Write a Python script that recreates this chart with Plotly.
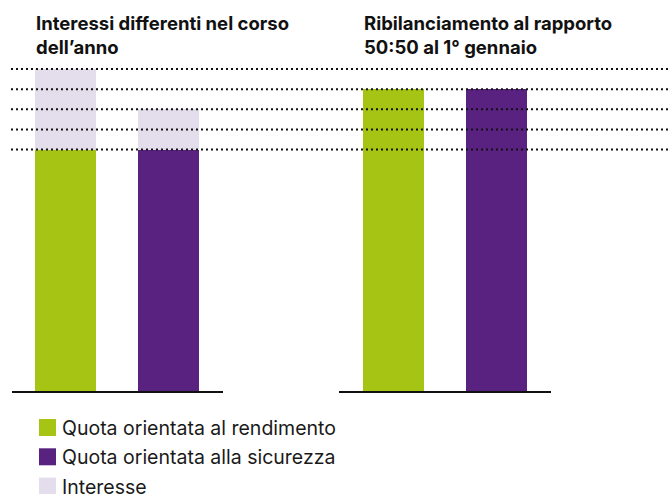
import plotly.graph_objects as go

# ---- data ----
categories = ["rendimento", "sicurezza"]
series_names = ["Quota orientata al rendimento", "Quota orientata alla sicurezza", "Interesse"]
series_colors = ["#A6C413", "#5A2280", "#E4DEEC"]
left_base = [12, 12]          # shares before interest (left panel)
left_interest = [4, 2]        # interest added during the year
right_rebalanced = [15, 15]   # after rebalancing 50:50
grid_levels = [12, 13, 14, 15, 16]
panel_titles = ["Interessi differenti nel corso<br>dell’anno",
                "Ribilanciamento al rapporto<br>50:50 al 1° gennaio"]

W, H = 669, 494
FONT = "Inter"

fig = go.Figure()

bar_w = [0.592, 0.592]
fig.add_trace(go.Bar(x=categories, y=left_base, width=bar_w,
                     marker=dict(color=series_colors[:2], line_width=0),
                     name="base", showlegend=False, xaxis="x", yaxis="y", hoverinfo="skip"))
fig.add_trace(go.Bar(x=categories, y=left_interest, width=bar_w,
                     marker=dict(color=series_colors[2], line_width=0),
                     name=series_names[2], showlegend=False, xaxis="x", yaxis="y", hoverinfo="skip"))
fig.add_trace(go.Bar(x=categories, y=right_rebalanced, width=bar_w,
                     marker=dict(color=series_colors[:2], line_width=0),
                     name="rebalanced", showlegend=False, xaxis="x2", yaxis="y2", hoverinfo="skip"))

px_per_unit = (391 - 69) / 16.0
ymax = 17
y_top_px = 391 - ymax * px_per_unit
ydom = [(H - 391) / H, (H - y_top_px) / H]

axis_common = dict(showticklabels=False, ticks="", showgrid=False, zeroline=False,
                   showline=True, linecolor="#111111", linewidth=2, fixedrange=True,
                   type="category")
fig.update_layout(
    width=W, height=H, margin=dict(l=0, r=0, t=0, b=0),
    paper_bgcolor="white", plot_bgcolor="rgba(0,0,0,0)",
    barmode="stack", bargap=0, showlegend=False,
    xaxis=dict(domain=[12 / W, 222.5 / W], range=[-0.519, 1.519], anchor="y", **axis_common),
    xaxis2=dict(domain=[339 / W, 550.5 / W], range=[-0.529, 1.519], anchor="y2", **axis_common),
    yaxis=dict(domain=ydom, range=[0, ymax], visible=False, fixedrange=True),
    yaxis2=dict(domain=ydom, range=[0, ymax], visible=False, fixedrange=True, anchor="x2"),
    font=dict(family=FONT, color="#111111"),
)

# dotted reference lines across the whole chart
for lv in grid_levels:
    fig.add_shape(type="line", xref="paper", yref="y", x0=11 / W, x1=1.0, y0=lv, y1=lv,
                  line=dict(color="#111111", width=2, dash="2px,3px"), layer="above")

# panel titles
for i, t in enumerate(panel_titles):
    fig.add_annotation(text="<b>" + t + "</b>", xref="paper", yref="paper",
                       x=(34 if i == 0 else 362) / W, y=1 - 10 / H,
                       xanchor="left", yanchor="top", align="left", showarrow=False,
                       font=dict(family=FONT, size=18.5, color="#111111"))

# legend
leg_tops = [419, 448.3, 477.6]
for name, col, top in zip(series_names, series_colors, leg_tops):
    fig.add_shape(type="rect", xref="paper", yref="paper",
                  x0=39 / W, x1=56 / W, y0=1 - (top + 17) / H, y1=1 - top / H,
                  fillcolor=col, line_width=0)
    fig.add_annotation(text=name, xref="paper", yref="paper", x=60 / W, y=1 - (top + 9) / H,
                       xanchor="left", yanchor="middle", showarrow=False,
                       font=dict(family=FONT, size=19.5, color="#1a1a1a"))

fig.write_html("out.html", config={"displayModeBar": False})
